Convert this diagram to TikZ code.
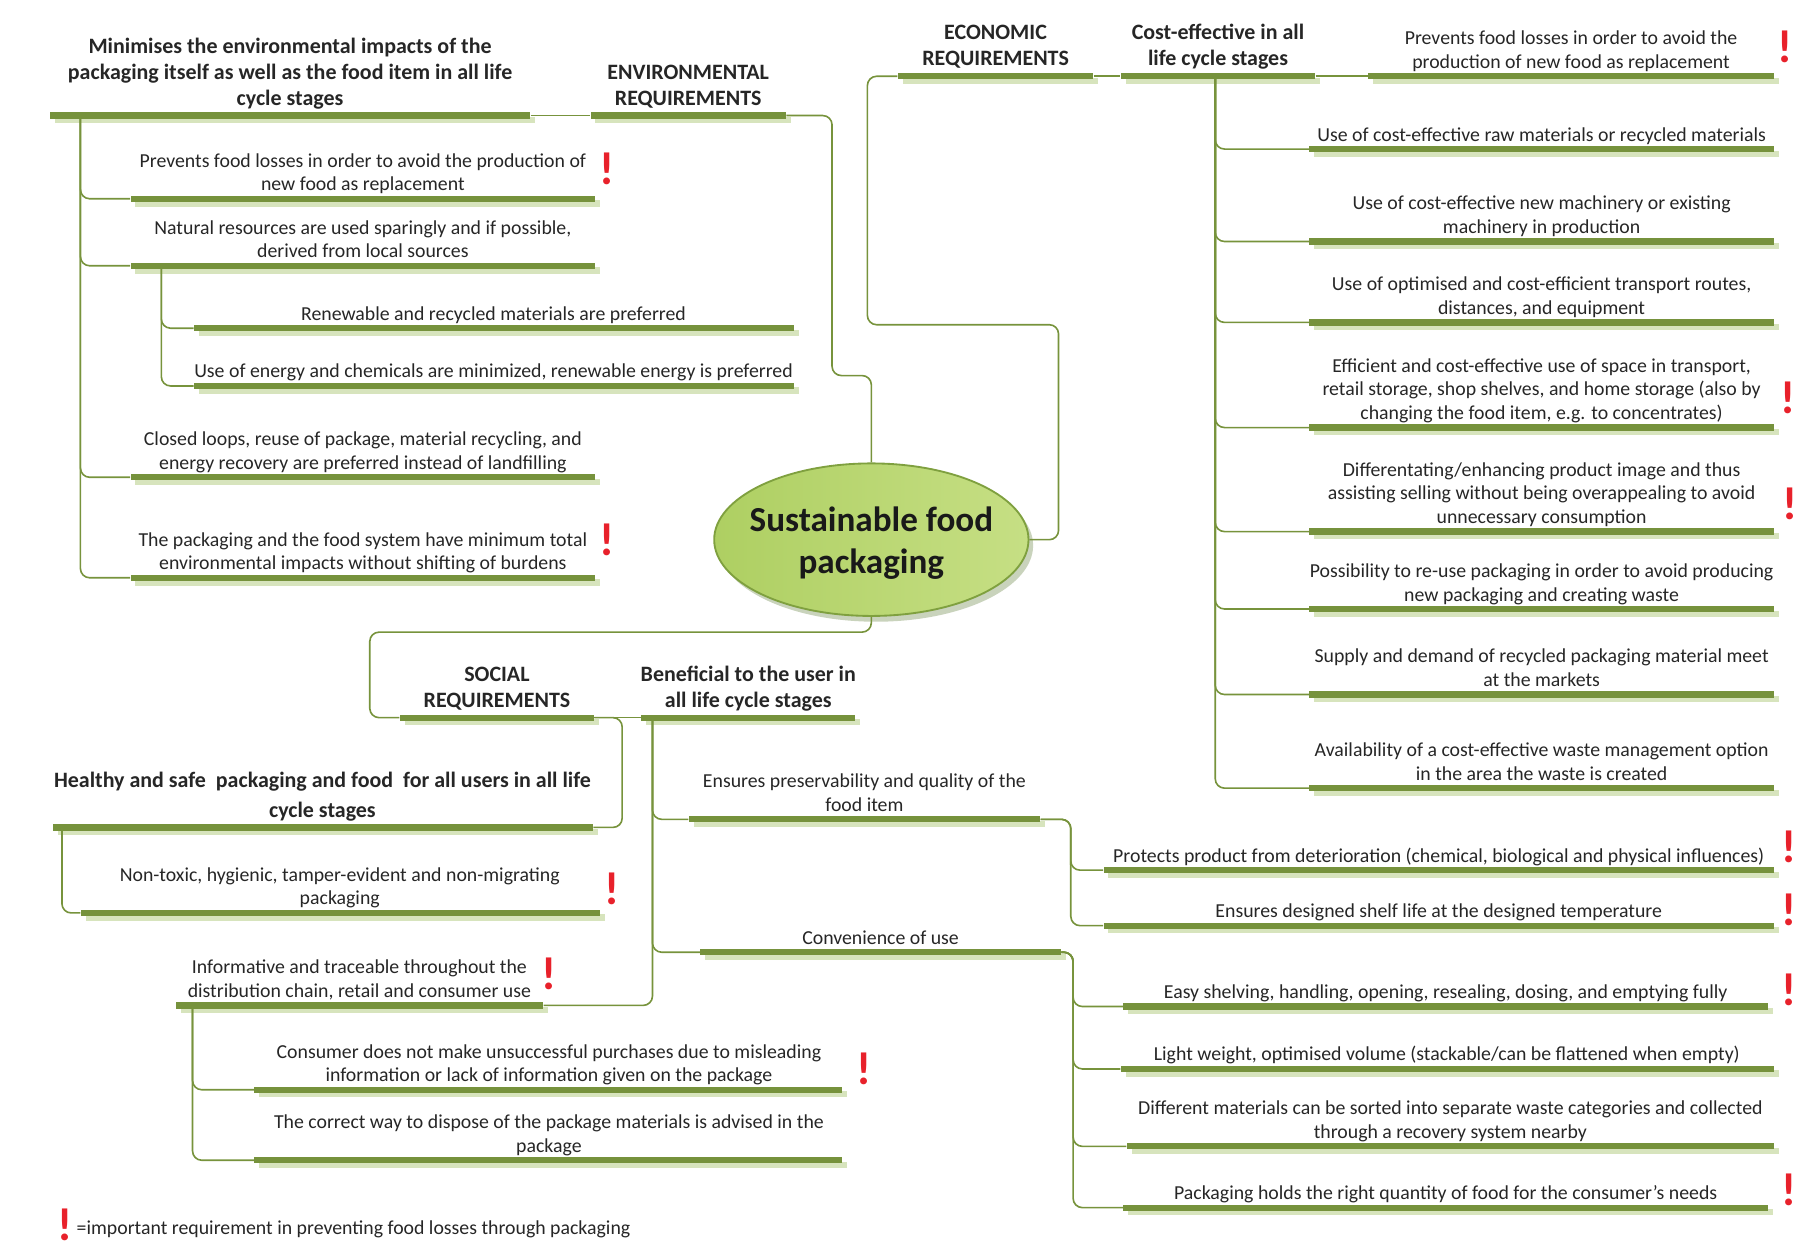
\documentclass[tikz,border=0pt]{standalone}
\usepackage{fontspec}
\setmainfont{Carlito}
\usetikzlibrary{calc,shadows,shapes.geometric}
\definecolor{barc}{HTML}{76923C}
\definecolor{shc}{HTML}{D7E4BD}
\definecolor{conc}{HTML}{77933C}
\definecolor{txt}{HTML}{262626}
\definecolor{exc}{HTML}{E8212B}
\definecolor{ellb}{HTML}{7FA03F}
\definecolor{ella}{HTML}{AECF62}
\definecolor{ellc}{HTML}{C6DF84}
\definecolor{ellsh}{HTML}{C9D3BC}
\newcommand\mbar[4]{\node[barnode, minimum width={(#3-#2)*0.5pt}] (#1) at ({(#2+#3)/2},#4) {};}
\begin{document}
\begin{tikzpicture}[x=0.5pt,y=-0.5pt,
  barnode/.style={rectangle, fill=barc, inner sep=0pt, minimum height=2.7pt,
    general shadow={fill=shc, shadow xshift=2.1pt, shadow yshift=-2pt}},
  conn/.style={draw=conc, line width=0.7pt, rounded corners=4pt},
  lbl/.style={anchor=south, inner sep=0pt, text depth=0pt, align=center, text=txt,
    font=\fontsize{8.57}{10.25}\selectfont},
  hdr/.style={lbl, font=\fontsize{9.5}{11.25}\selectfont\bfseries},
  imp/.style={inner sep=0pt, text=exc, font=\fontsize{20}{20}\selectfont\bfseries},
]
\useasboundingbox (0,0) rectangle (1568,1085);

% ---------------- central ellipse
\node[ellipse, inner sep=0pt, minimum width=136pt, minimum height=66pt, draw=ellb, line width=0.8pt,
  left color=ella, right color=ellc,
  general shadow={fill=ellsh, shadow xshift=2pt, shadow yshift=-2.5pt}]
  (ell) at (754,467) {};
\node[align=center, inner sep=0pt, text=black!90, font=\fontsize{15.2}{18.5}\selectfont\bfseries]
  (ellt) at (754,470) {Sustainable food\\packaging};

% ---------------- ENVIRONMENTAL
\mbar{eb}{511}{680}{100}
\mbar{mb}{43}{459}{100}
\mbar{e1}{113}{515}{172}
\mbar{e2}{113}{515}{230}
\mbar{e21}{168}{687}{284}
\mbar{e22}{168}{687}{334}
\mbar{e3}{113}{515}{413}
\mbar{e4}{113}{515}{500}

\node[hdr] (ebt) at (595.5,91.5) {ENVIRONMENTAL\\REQUIREMENTS};
\node[hdr] (mbt) at (251,91.5) {Minimises the environmental impacts of the\\packaging itself as well as the food item in all life\\cycle stages};
\node[lbl] (e1t) at (314,165.5) {Prevents food losses in order to avoid the production of\\new food as replacement};
\node[lbl] (e2t) at (314,223.5) {Natural resources are used sparingly and if possible,\\derived from local sources};
\node[lbl] (e21t) at (427,277.5) {Renewable and recycled materials are preferred};
\node[lbl] (e22t) at (427,327.5) {Use of energy and chemicals are minimized, renewable energy is preferred};
\node[lbl] (e3t) at (314,406.5) {Closed loops, reuse of package, material recycling, and\\energy recovery are preferred instead of landfilling};
\node[lbl] (e4t) at (314,493.5) {The packaging and the food system have minimum total\\environmental impacts without shifting of burdens};
\node[imp] (x1) at (525,146) {!};
\node[imp] (x2) at (525,467) {!};

\coordinate (ej) at (720,325);
\draw[conn] (eb.east) -| (ej) -| (ell.north);
\draw[conn] (mb.east) -- (eb.west);
\foreach \c in {e1,e2,e3,e4}{\draw[conn] ($(mb.west)+(27,0)$) |- (\c.west);}
\foreach \c in {e21,e22}{\draw[conn] ($(e2.west)+(27,0)$) |- (\c.west);}

% ---------------- ECONOMIC
\mbar{cb}{777}{946}{66}
\mbar{cf}{970}{1138}{66}
\mbar{c0}{1184}{1535}{66}
\mbar{c1}{1133}{1535}{129}
\mbar{c2}{1133}{1535}{209}
\mbar{c3}{1133}{1535}{279}
\mbar{c4}{1133}{1535}{370}
\mbar{c5}{1133}{1535}{460}
\mbar{c6}{1133}{1535}{527}
\mbar{c7}{1133}{1535}{601}
\mbar{c8}{1133}{1535}{682}

\node[hdr] (cbt) at (861.5,57.5) {ECONOMIC\\REQUIREMENTS};
\node[hdr] (cft) at (1054,57.5) {Cost-effective in all\\life cycle stages};
\node[lbl] (c0t) at (1359.5,59.5) {Prevents food losses in order to avoid the\\production of new food as replacement};
\node[lbl] (c1t) at (1334,122.5) {Use of cost-effective raw materials or recycled materials};
\node[lbl] (c2t) at (1334,202.5) {Use of cost-effective new machinery or existing\\machinery in production};
\node[lbl] (c3t) at (1334,272.5) {Use of optimised and cost-efficient transport routes,\\distances, and equipment};
\node[lbl] (c4t) at (1334,363.5) {Efficient and cost-effective use of space in transport,\\retail storage, shop shelves, and home storage (also by\\changing the food item, e.g. to concentrates)};
\node[lbl] (c5t) at (1334,453.5) {Differentating/enhancing product image and thus\\assisting selling without being overappealing to avoid\\unnecessary consumption};
\node[lbl] (c6t) at (1334,520.5) {Possibility to re-use packaging in order to avoid producing\\new packaging and creating waste};
\node[lbl] (c7t) at (1334,594.5) {Supply and demand of recycled packaging material meet\\at the markets};
\node[lbl] (c8t) at (1334,675.5) {Availability of a cost-effective waste management option\\in the area the waste is created};
\node[imp] (x3) at (1545,41) {!};
\node[imp] (x4) at (1547,344) {!};
\node[imp] (x5) at (1549,436) {!};

\coordinate (cj) at (916,281);
\draw[conn] (ell.east) -| (cj) -| ($(cb.west)+(-26,0)$) -- (cb.west);
\draw[conn] (cb.east) -- (cf.west);
\draw[conn] (cf.east) -- (c0.west);
\foreach \c in {c1,c2,c3,c4,c5,c6,c7,c8}{\draw[conn] ($(cf.west)+(82,0)$) |- (\c.west);}

% ---------------- SOCIAL
\mbar{sb}{346}{514}{621}
\mbar{bf}{555}{740}{621}
\mbar{hb}{46}{513}{716}
\mbar{h1}{70}{519}{790}
\mbar{pp}{596}{900}{709}
\mbar{p1}{955}{1535}{753}
\mbar{p2}{955}{1535}{801}
\mbar{cv}{606}{918}{824}
\mbar{v1}{972}{1530}{871}
\mbar{v2}{970}{1535}{925}
\mbar{v3}{975}{1535}{992}
\mbar{v4}{972}{1530}{1045}
\mbar{inf}{152}{470}{870}
\mbar{i1}{220}{729}{943}
\mbar{i2}{220}{729}{1004}

\node[hdr] (sbt) at (430,612.5) {SOCIAL\\REQUIREMENTS};
\node[hdr] (bft) at (647.5,612.5) {Beneficial to the user in\\all life cycle stages};
\node[hdr, font=\fontsize{9.5}{13}\selectfont\bfseries] (hbt) at (279,707.5) {Healthy and safe\ \ packaging and food\ \ for all users in all life\\cycle stages};
\node[lbl] (h1t) at (294,783.5) {Non-toxic, hygienic, tamper-evident and non-migrating\\packaging};
\node[lbl] (ppt) at (748,702.5) {Ensures preservability and quality of the\\food item};
\node[lbl] (p1t) at (1245,746.5) {Protects product from deterioration (chemical, biological and physical influences)};
\node[lbl] (p2t) at (1245,794.5) {Ensures designed shelf life at the designed temperature};
\node[lbl] (cvt) at (762,817.5) {Convenience of use};
\node[lbl] (v1t) at (1251,864.5) {Easy shelving, handling, opening, resealing, dosing, and emptying fully};
\node[lbl] (v2t) at (1252,918.5) {Light weight, optimised volume (stackable/can be flattened when empty)};
\node[lbl] (v3t) at (1255,985.5) {Different materials can be sorted into separate waste categories and collected\\through a recovery system nearby};
\node[lbl] (v4t) at (1251,1038.5) {Packaging holds the right quantity of food for the consumer’s needs};
\node[lbl] (inft) at (311,863.5) {Informative and traceable throughout the\\distribution chain, retail and consumer use};
\node[lbl] (i1t) at (475,936.5) {Consumer does not make unsuccessful purchases due to misleading\\information or lack of information given on the package};
\node[lbl] (i2t) at (475,997.5) {The correct way to dispose of the package materials is advised in the\\package};
\node[imp] (x6) at (530,769) {!};
\node[imp] (x7) at (1548,733) {!};
\node[imp] (x8) at (1548,787) {!};
\node[imp] (x9) at (1548,857) {!};
\node[imp] (x10) at (1548,1030) {!};
\node[imp] (x11) at (475,843) {!};
\node[imp] (x12) at (748,925) {!};

\coordinate (sj) at (320,547);
\draw[conn] (ell.south) |- (sj) |- (sb.west);
\draw[conn] (sb.east) -- (bf.west);
\draw[conn] (sb.east) -| ($(hb.east)+(25,0)$) -- (hb.east);
\draw[conn] ($(hb.west)+(8,0)$) |- (h1.west);
\foreach \c in {pp,cv}{\draw[conn] ($(bf.west)+(10,0)$) |- (\c.west);}
\draw[conn] ($(bf.west)+(10,0)$) |- (inf.east);
\foreach \c in {p1,p2}{\draw[conn] (pp.east) -| ($(p1.west)+(-28,0)$) |- (\c.west);}
\foreach \c in {v1,v2,v3,v4}{\draw[conn] (cv.east) -| ($(v1.west)+(-43,0)$) |- (\c.west);}
\foreach \c in {i1,i2}{\draw[conn] ($(inf.west)+(15,0)$) |- (\c.west);}

% ---------------- legend
\node[imp] (xl) at (56,1060) {!};
\node[anchor=base west, inner sep=0pt, text=txt, font=\fontsize{8.57}{10.25}\selectfont] (leg) at (66,1068) {=important requirement in preventing food losses through packaging};
\end{tikzpicture}
\end{document}
